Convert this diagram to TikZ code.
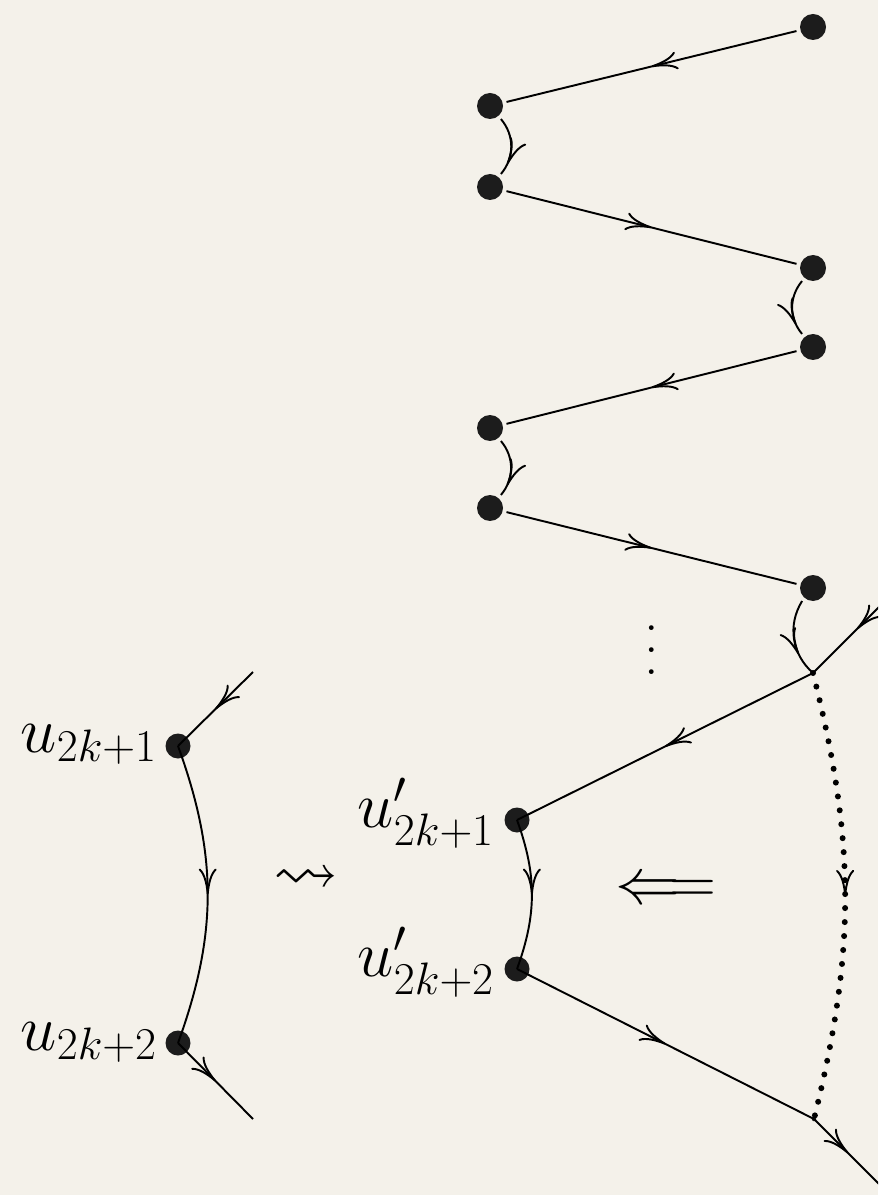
\RequirePackage{fix-cm}
\documentclass[tikz,border=0pt]{standalone}
\usepackage{amssymb}
\usetikzlibrary{arrows.meta,decorations.markings}
\definecolor{bgc}{RGB}{244,241,234}
\definecolor{dotc}{RGB}{28,28,28}
\newcommand{\myvdots}{\vbox{\baselineskip=12.5pt\lineskiplimit=0pt\hbox{.}\hbox{.}\hbox{.}}}
\tikzset{
  bigdot/.style={circle,fill=dotc,minimum size=0.52cm,inner sep=0pt,outer sep=0.08cm},
  leftdot/.style={circle,fill=dotc,minimum size=0.5cm,inner sep=0pt,outer sep=0pt},
  smalldot/.style={circle,fill=dotc,minimum size=0.09cm,inner sep=0pt,outer sep=0pt},
  edge/.style={line width=1.1pt},
  dotline/.style={line width=0.12cm,dash pattern=on 0pt off 0.28cm,line cap=round},
  midarrow/.style={postaction={decorate},decoration={markings,
      mark=at position #1 with {\arrow{Computer Modern Rightarrow[length=0.52cm,width=0.36cm,line width=1.1pt]}}}},
  midarrow/.default=0.5,
  lbl/.style={font=\fontsize{37}{44}\selectfont,inner sep=0pt,outer sep=0pt},
  vdlbl/.style={font=\fontsize{33}{40}\selectfont,inner sep=0pt,outer sep=0pt},
}
\begin{document}
\begin{tikzpicture}[x=0.02cm,y=-0.02cm]
\fill[bgc] (0,0) rectangle (878,1195);
\useasboundingbox (0,0) rectangle (878,1195);
\clip (0,0) rectangle (878,1195);

% zig-zag chain
\node[bigdot] (A) at (813,27) {};
\node[bigdot] (B) at (490,106) {};
\node[bigdot] (C) at (490,187) {};
\node[bigdot] (D) at (813,268) {};
\node[bigdot] (E) at (813,347) {};
\node[bigdot] (F) at (490,428) {};
\node[bigdot] (G) at (490,508) {};
\node[bigdot] (H) at (813,588) {};
\node[smalldot] (J) at (813,673) {};
\node[smalldot] (K) at (814,1119) {};
\coordinate (Q) at (901,585);
\coordinate (R) at (882,1187);

\draw[edge,midarrow] (A) -- (B);
\draw[edge,midarrow=0.8] (B) to[bend left=40] (C);
\draw[edge,midarrow] (C) -- (D);
\draw[edge,midarrow=0.8] (D) to[bend right=40] (E);
\draw[edge,midarrow] (E) -- (F);
\draw[edge,midarrow=0.8] (F) to[bend left=40] (G);
\draw[edge,midarrow] (G) -- (H);
\draw[edge,midarrow=0.7] (H) to[bend right=40] (J.center);
\draw[edge,midarrow] (Q) -- (J.center);

\node[vdlbl] (vd) at (652,650) {\myvdots};

% middle pair
\node[leftdot] (v1) at (517,820) {};
\node[leftdot] (v2) at (517,969) {};
\draw[edge,midarrow] (J.center) -- (v1.center);
\draw[edge,midarrow] (v1.center) to[bend left=20] (v2.center);
\draw[edge,midarrow] (v2.center) -- (K.center);
\draw[edge,midarrow] (K.center) -- (R);
\draw[dotline,midarrow] (J.center) to[bend left=14] (K.center);
\node[lbl,anchor=base east] (l3) at (494,827) {$u'_{2k+1}$};
\node[lbl,anchor=base east] (l4) at (494,976) {$u'_{2k+2}$};
\node[lbl] (dl) at (666,892) {$\Longleftarrow$};

% left pair
\node[leftdot] (u1) at (178,746) {};
\node[leftdot] (u2) at (178,1043) {};
\coordinate (P1) at (253,672);
\coordinate (P2) at (253,1119);
\draw[edge,midarrow] (P1) -- (u1.center);
\draw[edge,midarrow] (u1.center) to[bend left=20] (u2.center);
\draw[edge,midarrow] (u2.center) -- (P2);
\node[lbl,anchor=base east] (l1) at (157,752) {$u_{2k+1}$};
\node[lbl,anchor=base east] (l2) at (157,1050) {$u_{2k+2}$};
\node[lbl] (sq) at (306,880) {$\rightsquigarrow$};
\end{tikzpicture}
\end{document}
